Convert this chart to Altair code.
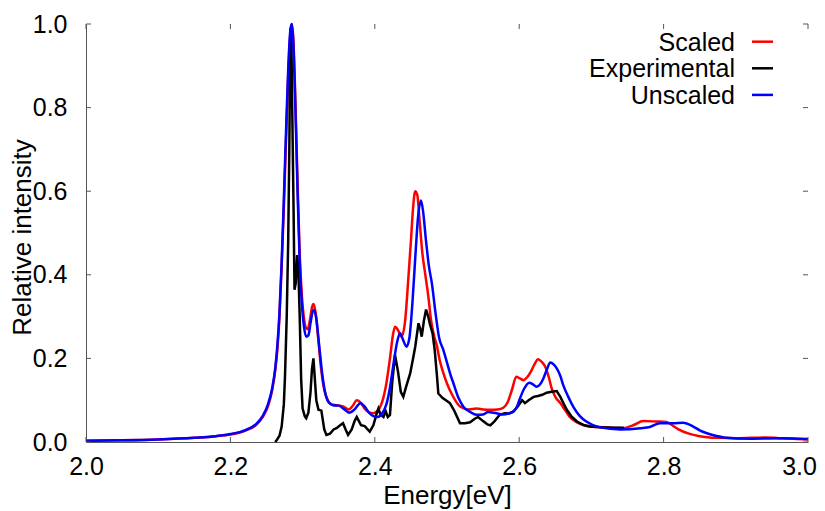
import altair as alt
import pandas as pd

# ---------------- data ----------------
scaled_x = [2.000, 2.050, 2.100, 2.150, 2.180, 2.200, 2.220, 2.235, 2.245, 2.252,
            2.258, 2.262, 2.265, 2.268, 2.271, 2.274, 2.277, 2.280, 2.283, 2.285,
            2.287, 2.290, 2.293, 2.296, 2.299, 2.302, 2.305, 2.307, 2.310, 2.313,
            2.315, 2.318, 2.322, 2.326, 2.330, 2.335, 2.340, 2.348, 2.356, 2.364,
            2.370, 2.375, 2.380, 2.386, 2.392, 2.398, 2.404, 2.410, 2.416, 2.421,
            2.425, 2.428, 2.432, 2.437, 2.442, 2.446, 2.450, 2.453, 2.456, 2.459,
            2.462, 2.466, 2.470, 2.474, 2.478, 2.482, 2.486, 2.490, 2.495, 2.500,
            2.508, 2.518, 2.530, 2.541, 2.550, 2.560, 2.570, 2.578, 2.584, 2.590,
            2.596, 2.601, 2.606, 2.611, 2.616, 2.621, 2.626, 2.631, 2.636, 2.641,
            2.645, 2.650, 2.657, 2.664, 2.670, 2.680, 2.690, 2.712, 2.744, 2.758,
            2.772, 2.790, 2.804, 2.812, 2.820, 2.835, 2.850, 2.874, 2.900, 2.943,
            2.960, 2.980, 3.000]
scaled_y = [0.003, 0.004, 0.006, 0.010, 0.014, 0.018, 0.027, 0.040, 0.060, 0.085,
            0.125, 0.170, 0.220, 0.300, 0.420, 0.560, 0.720, 0.870, 0.975, 1.000,
            0.970, 0.820, 0.620, 0.450, 0.350, 0.295, 0.272, 0.270, 0.290, 0.322,
            0.330, 0.310, 0.240, 0.170, 0.125, 0.100, 0.090, 0.088, 0.085, 0.078,
            0.088, 0.100, 0.095, 0.080, 0.071, 0.069, 0.075, 0.095, 0.140, 0.200,
            0.255, 0.276, 0.268, 0.252, 0.290, 0.380, 0.480, 0.560, 0.600, 0.590,
            0.530, 0.450, 0.400, 0.350, 0.290, 0.255, 0.230, 0.195, 0.165, 0.140,
            0.110, 0.085, 0.078, 0.080, 0.078, 0.077, 0.078, 0.082, 0.095, 0.125,
            0.156, 0.152, 0.148, 0.155, 0.168, 0.185, 0.198, 0.192, 0.180, 0.155,
            0.128, 0.108, 0.093, 0.075, 0.060, 0.047, 0.040, 0.035, 0.033, 0.040,
            0.050, 0.049, 0.048, 0.040, 0.031, 0.020, 0.014, 0.010, 0.009, 0.011,
            0.009, 0.008, 0.006]

unscaled_x = [2.000, 2.050, 2.100, 2.150, 2.180, 2.200, 2.220, 2.235, 2.245, 2.252,
              2.258, 2.262, 2.265, 2.268, 2.271, 2.274, 2.277, 2.280, 2.283, 2.285,
              2.287, 2.290, 2.293, 2.296, 2.299, 2.302, 2.305, 2.308, 2.311, 2.314,
              2.316, 2.319, 2.323, 2.327, 2.331, 2.336, 2.342, 2.350, 2.358, 2.365,
              2.372, 2.380, 2.386, 2.392, 2.398, 2.404, 2.410, 2.416, 2.421, 2.426,
              2.431, 2.435, 2.439, 2.444, 2.448, 2.452, 2.456, 2.460, 2.464, 2.467,
              2.471, 2.475, 2.479, 2.484, 2.489, 2.495, 2.500, 2.505, 2.509, 2.516,
              2.523, 2.532, 2.541, 2.550, 2.557, 2.565, 2.578, 2.585, 2.592, 2.597,
              2.601, 2.607, 2.614, 2.619, 2.624, 2.629, 2.633, 2.638, 2.643, 2.648,
              2.652, 2.657, 2.661, 2.668, 2.675, 2.684, 2.693, 2.712, 2.740, 2.768,
              2.781, 2.795, 2.813, 2.827, 2.841, 2.850, 2.860, 2.872, 2.883, 2.920,
              2.965, 3.000]
unscaled_y = [0.003, 0.004, 0.006, 0.010, 0.014, 0.019, 0.028, 0.042, 0.063, 0.090,
              0.130, 0.175, 0.230, 0.310, 0.430, 0.580, 0.740, 0.890, 0.985, 1.000,
              0.960, 0.800, 0.600, 0.430, 0.330, 0.275, 0.252, 0.255, 0.285, 0.312,
              0.316, 0.295, 0.230, 0.165, 0.120, 0.095, 0.088, 0.087, 0.078, 0.070,
              0.078, 0.093, 0.085, 0.070, 0.062, 0.060, 0.068, 0.090, 0.130, 0.188,
              0.240, 0.260, 0.245, 0.228, 0.250, 0.330, 0.440, 0.540, 0.578, 0.550,
              0.480, 0.420, 0.380, 0.310, 0.250, 0.220, 0.190, 0.160, 0.140, 0.105,
              0.084, 0.072, 0.065, 0.066, 0.072, 0.070, 0.066, 0.068, 0.073, 0.085,
              0.104, 0.128, 0.142, 0.138, 0.132, 0.138, 0.150, 0.172, 0.190, 0.185,
              0.176, 0.158, 0.136, 0.108, 0.084, 0.062, 0.049, 0.035, 0.030, 0.033,
              0.036, 0.045, 0.045, 0.046, 0.037, 0.028, 0.021, 0.015, 0.011, 0.008,
              0.009, 0.007]

exp_x = [2.262, 2.264, 2.268, 2.271, 2.274, 2.2756, 2.278, 2.280, 2.2816,
         2.2830, 2.2845, 2.2860, 2.2875, 2.2888, 2.2905, 2.2925, 2.2940, 2.2960, 2.2980,
         2.300, 2.303, 2.305, 2.308, 2.311, 2.313, 2.315, 2.317, 2.319, 2.322,
         2.326, 2.330, 2.333, 2.338, 2.343, 2.347, 2.352, 2.356, 2.360, 2.363,
         2.368, 2.372, 2.375, 2.378, 2.381, 2.386, 2.393, 2.398, 2.403, 2.405,
         2.408, 2.412, 2.415, 2.418, 2.421, 2.424, 2.428, 2.432, 2.436, 2.4395,
         2.443, 2.449, 2.453, 2.456, 2.4605, 2.463, 2.465, 2.468, 2.471, 2.474,
         2.476, 2.480, 2.483, 2.486, 2.488, 2.494, 2.500, 2.504, 2.510, 2.518,
         2.525, 2.532, 2.538, 2.543, 2.550, 2.556, 2.560, 2.566, 2.573, 2.580,
         2.586, 2.592, 2.598, 2.604, 2.608, 2.613, 2.620, 2.626, 2.632, 2.638,
         2.645, 2.652, 2.657, 2.662, 2.666, 2.672, 2.680, 2.690, 2.698, 2.715,
         2.730, 2.745]
exp_y = [0.000, 0.004, 0.015, 0.037, 0.090, 0.156, 0.300, 0.475, 0.700,
         0.990, 0.950, 0.750, 0.555, 0.364, 0.380, 0.447, 0.420, 0.300, 0.150,
         0.080, 0.062, 0.057, 0.070, 0.120, 0.175, 0.200, 0.150, 0.100, 0.077,
         0.075, 0.030, 0.017, 0.020, 0.030, 0.033, 0.040, 0.045, 0.028, 0.017,
         0.030, 0.050, 0.060, 0.050, 0.040, 0.038, 0.025, 0.040, 0.070, 0.080,
         0.065, 0.060, 0.074, 0.060, 0.065, 0.140, 0.208, 0.170, 0.120, 0.108,
         0.130, 0.164, 0.200, 0.228, 0.284, 0.270, 0.252, 0.290, 0.317, 0.300,
         0.284, 0.260, 0.220, 0.160, 0.116, 0.105, 0.098, 0.093, 0.075, 0.045,
         0.045, 0.047, 0.055, 0.060, 0.050, 0.042, 0.040, 0.050, 0.065, 0.069,
         0.068, 0.073, 0.085, 0.100, 0.093, 0.100, 0.108, 0.110, 0.113, 0.118,
         0.120, 0.122, 0.108, 0.090, 0.077, 0.062, 0.049, 0.040, 0.037, 0.035,
         0.034, 0.034]

series_names = ["Scaled", "Experimental", "Unscaled"]
series_colors = ["#ff0000", "#000000", "#0000ff"]
x_ticks = [2.0, 2.2, 2.4, 2.6, 2.8, 3.0]
y_ticks = [0.0, 0.2, 0.4, 0.6, 0.8, 1.0]

# ---------------- chart ----------------
FONT = "Liberation Sans"
FS = 25
W, H = 722, 418
XDOM = [2.0, 3.0]
YDOM = [0.0, 1.0]
AXCOL = "#555555"

xs = alt.Scale(domain=XDOM, nice=False, zero=False)
ys = alt.Scale(domain=YDOM, nice=False, zero=False)

x_axis = alt.Axis(
    values=x_ticks, format=".1f", title="Energy[eV]", grid=False,
    ticks=False, tickSize=0, labelFlush=False, labelOverlap=False,
    labelOffset=alt.ExprRef("datum.value > 2.95 ? -9 : 0"),
    labelFont=FONT, labelFontSize=FS, labelColor="black", labelPadding=12,
    titleFont=FONT, titleFontSize=26, titleFontWeight="normal", titleColor="black",
    titleX=W / 2, titleY=61, titleBaseline="alphabetic", titleAlign="center",
    domainColor=AXCOL, domainWidth=1)
y_axis = alt.Axis(
    values=y_ticks, format=".1f", title="Relative intensity", grid=False,
    ticks=False, tickSize=0, labelFlush=False, labelOverlap=False,
    labelFont=FONT, labelFontSize=FS, labelColor="black", labelPadding=19,
    titleFont=FONT, titleFontSize=26, titleFontWeight="normal", titleColor="black",
    titleX=-56, titleY=213, titleBaseline="alphabetic", titleAlign="center",
    domainColor=AXCOL, domainWidth=1)


def line_layer(xv, yv, color, interp):
    df = pd.DataFrame({"x": xv, "y": yv})
    return alt.Chart(df).mark_line(color=color, strokeWidth=2.5, interpolate=interp).encode(
        x=alt.X("x:Q", scale=xs, axis=x_axis),
        y=alt.Y("y:Q", scale=ys, axis=y_axis))


red = line_layer(scaled_x, scaled_y, series_colors[0], "monotone")
black = line_layer(exp_x, exp_y, series_colors[1], "linear")
blue = line_layer(unscaled_x, unscaled_y, series_colors[2], "monotone")

# inward tick marks (bottom/top for x, left/right for y)
tx = pd.DataFrame({"x": x_ticks})
ty = pd.DataFrame({"y": y_ticks})
tlx = 5 / W * (XDOM[1] - XDOM[0])
tly = 5 / H * (YDOM[1] - YDOM[0])
tick_layers = [
    alt.Chart(tx).mark_rule(color=AXCOL, strokeWidth=1).encode(
        x=alt.X("x:Q", scale=xs, axis=x_axis),
        y=alt.datum(YDOM[0], scale=ys, axis=y_axis), y2=alt.datum(YDOM[0] + tly)),
    alt.Chart(tx).mark_rule(color=AXCOL, strokeWidth=1).encode(
        x=alt.X("x:Q", scale=xs, axis=x_axis),
        y=alt.datum(YDOM[1], scale=ys, axis=y_axis), y2=alt.datum(YDOM[1] - tly)),
    alt.Chart(ty).mark_rule(color=AXCOL, strokeWidth=1).encode(
        y=alt.Y("y:Q", scale=ys, axis=y_axis),
        x=alt.datum(XDOM[0], scale=xs, axis=x_axis), x2=alt.datum(XDOM[0] + tlx)),
    alt.Chart(ty).mark_rule(color=AXCOL, strokeWidth=1).encode(
        y=alt.Y("y:Q", scale=ys, axis=y_axis),
        x=alt.datum(XDOM[1], scale=xs, axis=x_axis), x2=alt.datum(XDOM[1] - tlx)),
]

# legend: label to the left of a short line sample
legend_layers = []
LX_TEXT = 735 - 86
LX0, LX1 = 752 - 86, 773 - 86
LY0, LDY = 41.7 - 24, 26.6
for i, (name, col) in enumerate(zip(series_names, series_colors)):
    ly = LY0 + i * LDY
    ldf = pd.DataFrame({"name": [name]})
    legend_layers.append(
        alt.Chart(ldf).mark_text(align="right", baseline="alphabetic", font=FONT,
                                 fontSize=25, color="black").encode(
            text="name:N", x=alt.value(LX_TEXT), y=alt.value(ly + 9)))
    legend_layers.append(
        alt.Chart(ldf).mark_rule(color=col, strokeWidth=2.5).encode(
            x=alt.value(LX0), x2=alt.value(LX1), y=alt.value(ly)))

chart = alt.layer(red, black, blue, *tick_layers, *legend_layers).properties(
    width=W, height=H,
    autosize=alt.AutoSizeParams(type="none"),
    padding={"left": 78, "top": 16, "right": 9, "bottom": 67},
    background="white",
).configure_view(stroke=None)

chart.save("out.html", embed_options={"renderer": "svg", "actions": False})
